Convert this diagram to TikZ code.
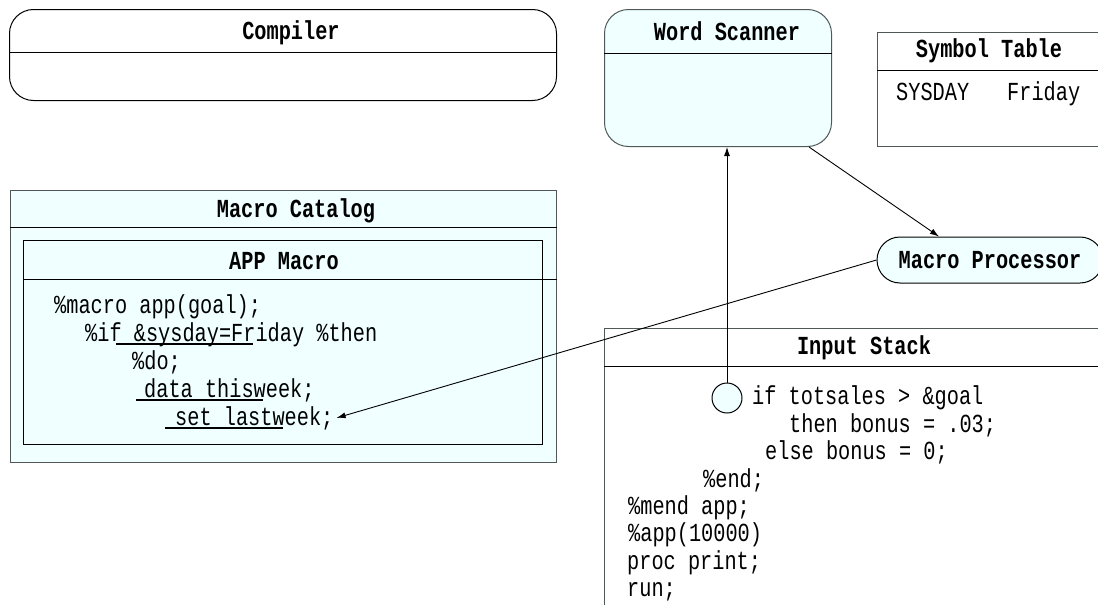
\documentclass[tikz,border=0pt]{standalone}
\usepackage{fontspec}
\newfontfamily\codefont{Liberation Mono}[FakeStretch=0.78]
\newcommand\headingfont{\codefont\bfseries\fontsize{26}{28}\selectfont}
\usetikzlibrary{arrows.meta,shapes.misc}
\definecolor{palecyan}{RGB}{240,255,255}
\definecolor{edgegray}{RGB}{80,88,88}
\tikzset{
  panel/.style={draw, anchor=north west, inner sep=0pt, line width=1pt},
  heading/.style={font=\headingfont, anchor=base, inner sep=0pt},
  code/.style={font=\codefont\fontsize{26}{28}\selectfont, anchor=base west, inner sep=0pt},
  link/.style={line width=0.9pt, -{Latex[length=9pt,width=6pt]}},
  uline/.style={line width=1.6pt}
}
\begin{document}
\begin{tikzpicture}[x=1pt,y=-1pt]
\useasboundingbox (0,0) rectangle (1098,605);
\clip (0,0) rectangle (1098,605);
% compiler
\node[panel, rounded corners=24pt, minimum width=547pt, minimum height=91pt] (compiler) at (9,9) {};
\draw[line width=1pt] (compiler.west |- 0,52) -- (compiler.east |- 0,52);
\node[heading] (compilertitle) at (291,39) {Compiler};
% word scanner
\node[panel, draw=edgegray, fill=palecyan, rounded corners=24pt, minimum width=227pt, minimum height=137pt] (scanner) at (604,9) {};
\draw[line width=1pt] (scanner.west |- 0,53) -- (scanner.east |- 0,53);
\node[heading] (scannertitle) at (727,40) {Word Scanner};
% symbol table
\node[panel, draw=edgegray, minimum width=240pt, minimum height=114pt] (symtab) at (877,32) {};
\draw[line width=1pt] (symtab.west |- 0,70) -- (symtab.east |- 0,70);
\node[heading] (symtabtitle) at (989,57) {Symbol Table};
\node[code] (symname) at (896,100) {SYSDAY};
\node[code] (symvalue) at (1007,100) {Friday};
% macro catalog
\node[panel, draw=edgegray, fill=palecyan, minimum width=546pt, minimum height=272pt] (catalog) at (10,190) {};
\draw[line width=1pt] (catalog.west |- 0,227) -- (catalog.east |- 0,227);
\node[heading] (catalogtitle) at (296,217) {Macro Catalog};
\node[panel, minimum width=519pt, minimum height=204pt] (app) at (23,240) {};
\draw[line width=1pt] (app.west |- 0,279) -- (catalog.east |- 0,279);
\node[heading] (apptitle) at (284,269) {APP Macro};
\node[code] (m1) at (54,313) {\%macro app(goal);};
\node[code] (m2) at (85,341) {\%if \&sysday=Friday \%then};
\node[code] (m3) at (132,369) {\%do;};
\node[code] (m4) at (144,397) {data thisweek;};
\node[code] (m5) at (175,425) {set lastweek;};
\draw[uline] (116,344) -- (253,344);
\draw[uline] (136,400) -- (263,400);
\draw[uline] (165,428) -- (283,428);
% macro processor
\node[draw, rounded rectangle, fill=palecyan, line width=1pt, minimum width=226pt, minimum height=46pt, inner sep=0pt, font=\headingfont] (proc) at (990,260) {Macro Processor};
% input stack
\node[panel, draw=edgegray, minimum width=520pt, minimum height=300pt] (stack) at (604,328) {};
\draw[line width=1pt] (stack.west |- 0,366) -- (stack.east |- 0,366);
\node[heading] (stacktitle) at (864,354) {Input Stack};
\node[draw, circle, fill=palecyan, line width=1pt, minimum size=30pt, inner sep=0pt] (cursor) at (727,398) {};
\node[code] (s1) at (752,404) {if totsales > \&goal};
\node[code] (s2) at (789,432) {then bonus = .03;};
\node[code] (s3) at (765,459) {else bonus = 0;};
\node[code] (s4) at (703,487) {\%end;};
\node[code] (s5) at (628,514) {\%mend app;};
\node[code] (s6) at (628,541) {\%app(10000)};
\node[code] (s7) at (627,569) {proc print;};
\node[code] (s8) at (627,596) {run;};
% connectors
\draw[link] (cursor.north) -- (cursor.north |- scanner.south);
\draw[link] ([xshift=91pt]scanner.south) -- ([xshift=-51pt]proc.north);
\draw[link] (proc.west) -- ([xshift=3pt]m5.east);
\end{tikzpicture}
\end{document}
